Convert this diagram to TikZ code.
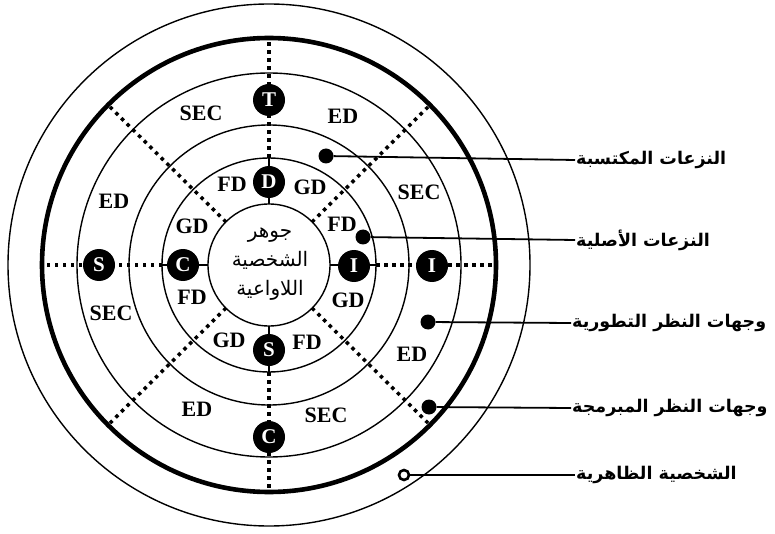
\documentclass[tikz,border=0pt]{standalone}
\usepackage{fontspec}
\setmainfont{Liberation Serif}
\newfontfamily\arabicfont[Script=Arabic]{DejaVu Sans}
\TeXXeTstate=1
\usepackage{tikz}

\begin{document}
\begin{tikzpicture}[x=1pt, y=-1pt,
  ring/.style={line width=1.4pt},
  axis/.style={line width=3.5pt, dash pattern=on 3.5pt off 4.5pt},
  letter/.style={circle, fill=black, text=white, inner sep=0pt, minimum size=32pt,
    font=\fontsize{21}{21}\selectfont\bfseries},
  tag/.style={font=\fontsize{22}{22}\selectfont\bfseries},
  arlabel/.style={anchor=west, inner sep=1pt, font=\arabicfont\bfseries\fontsize{17.5}{21}\selectfont},
  pindot/.style={circle, fill=black, inner sep=0pt, minimum size=15pt},
  pointer/.style={line width=1.8pt}]
  \useasboundingbox (0,0) rectangle (775,534);
  \coordinate (o) at (269,265);

  % rings
  \draw[ring] (o) circle (61);
  \draw[ring] (o) circle (107);
  \draw[ring] (o) circle (140);
  \draw[ring] (o) circle (192);
  \draw[line width=4.6pt] (o) circle (227);
  \draw[ring] (o) circle (261);

  % axes
  \draw[ring] (269,204) -- (269,158);
  \draw[ring] (269,326) -- (269,372);
  \draw[ring] (208,265) -- (162,265);
  \draw[ring] (330,265) -- (376,265);
  \draw[axis] (269,158) -- (269,38);
  \draw[axis] (269,372) -- (269,492);
  \draw[axis] (162,265) -- (42,265);
  \draw[axis] (376,265) -- (496,265);
  \draw[axis] (312,222) -- (430,105);
  \draw[axis] (226,222) -- (108,105);
  \draw[axis] (312,308) -- (430,425);
  \draw[axis] (226,308) -- (108,425);

  % core
  \node[font=\arabicfont\fontsize{20}{29}\selectfont, align=center] (core) at (270,264)
    {\beginR جوهر\endR\\\beginR الشخصية\endR\\\beginR اللاواعية\endR};

  % letters
  \node[letter] (nD) at (269,182) {D};
  \node[letter] (nCi) at (183,265) {C};
  \node[letter] (nIi) at (354,266) {I};
  \node[letter] (nSi) at (269,350) {S};
  \node[letter] (nT) at (269,100) {T};
  \node[letter] (nSo) at (99,265) {S};
  \node[letter] (nIo) at (432,266) {I};
  \node[letter] (nCo) at (269,437) {C};

  % inner band
  \node[tag] (fd1) at (232,184) {FD};
  \node[tag] (gd1) at (310,187) {GD};
  \node[tag] (gd2) at (192,226) {GD};
  \node[tag] (fd2) at (342,224) {FD};
  \node[tag] (fd3) at (192,297) {FD};
  \node[tag] (gd3) at (348,300) {GD};
  \node[tag] (gd4) at (229,340) {GD};
  \node[tag] (fd4) at (307,342) {FD};

  % outer band
  \node[tag] (sec1) at (201,113) {SEC};
  \node[tag] (ed1) at (343,116) {ED};
  \node[tag] (ed2) at (114,201) {ED};
  \node[tag] (sec2) at (419,192) {SEC};
  \node[tag] (sec3) at (111,313) {SEC};
  \node[tag] (ed3) at (412,354) {ED};
  \node[tag] (ed4) at (197,409) {ED};
  \node[tag] (sec4) at (326,415) {SEC};

  % pointers
  \node[pindot] (p1) at (326,156) {};
  \node[pindot] (p2) at (363,237) {};
  \node[pindot] (p3) at (428,322) {};
  \node[pindot] (p4) at (429,407) {};
  \node[circle, draw, line width=2.6pt, fill=white, inner sep=0pt, minimum size=10pt] (p5) at (404,475) {};
  \node[arlabel] (l1) at (575,160) {\beginR النزعات المكتسبة\endR};
  \node[arlabel] (l2) at (575,240) {\beginR النزعات الأصلية\endR};
  \node[arlabel] (l3) at (571,323) {\beginR وجهات النظر التطورية\endR};
  \node[arlabel] (l4) at (571,408) {\beginR وجهات النظر المبرمجة\endR};
  \node[arlabel] (l5) at (575,475) {\beginR الشخصية الظاهرية\endR};
  \draw[pointer] (p1) -- (l1.west);
  \draw[pointer] (p2) -- (l2.west);
  \draw[pointer] (p3) -- (l3.west);
  \draw[pointer] (p4) -- (l4.west);
  \draw[pointer] (p5) -- (l5.west);
\end{tikzpicture}
\end{document}
